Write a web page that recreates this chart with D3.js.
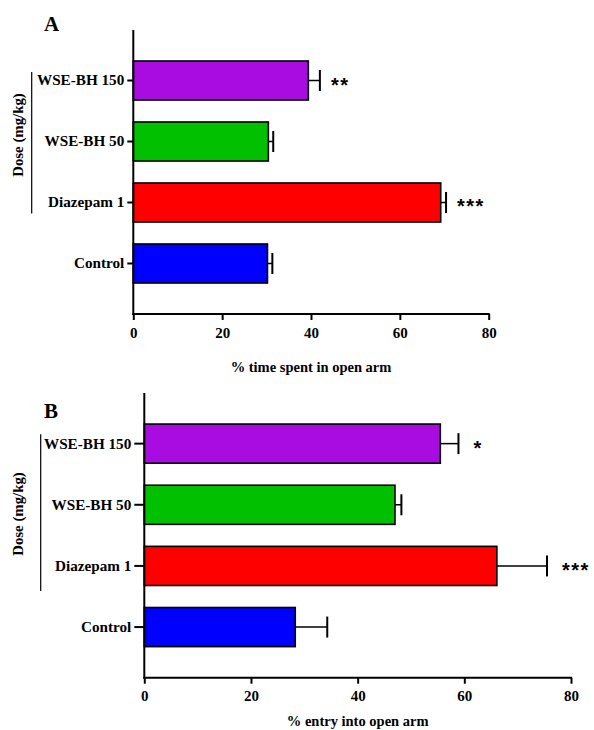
<!DOCTYPE html>
<html>
<head>
<meta charset="utf-8">
<script src="https://cdn.jsdelivr.net/npm/d3@7"></script>
<style>
  html, body { margin: 0; padding: 0; background: #fff; }
  svg { display: block; }
  text { font-family: "Liberation Serif", "Times New Roman", serif; font-weight: bold; fill: #000; }
</style>
</head>
<body>
<svg id="chart" width="594" height="730"></svg>
<script>
// Treatment groups, listed bottom to top
const groups = ["Control", "Diazepam 1", "WSE-BH 50", "WSE-BH 150"];
const groupColors = ["#0000FF", "#FF0000", "#00C000", "#A90CE1"];

// Panel A: % time spent in open arm (mean, SEM)
const timeMean = [30.2, 69.2, 30.4, 39.4];
const timeSem  = [1.1, 1.2, 1.1, 2.6];
const timeSig  = ["", "***", "", "**"];

// Panel B: % entry into open arm (mean, SEM)
const entryMean = [28.3, 66.1, 47.0, 55.5];
const entrySem  = [6.0, 9.4, 1.2, 3.4];
const entrySig  = ["", "***", "", "*"];

const xTicks = [0, 20, 40, 60, 80];
const xMax = 80;

const svg = d3.select("#chart");

function drawPanel(cfg) {
  const g = svg.append("g");
  const rows = groups.map((name, i) => ({
    name, color: groupColors[i], mean: cfg.mean[i], sem: cfg.sem[i], sig: cfg.sig[i]
  }));

  const x = d3.scaleLinear().domain([0, xMax]).range([cfg.left, cfg.right]);
  const y = d3.scaleBand().domain(groups).range([cfg.bottom, cfg.top])
    .paddingInner(0.36).paddingOuter(0.508);
  const cy = d => y(d) + y.bandwidth() / 2;

  // bars
  g.selectAll("rect.bar").data(rows).join("rect")
    .attr("class", "bar")
    .attr("x", x(0))
    .attr("y", d => y(d.name))
    .attr("width", d => x(d.mean) - x(0))
    .attr("height", y.bandwidth())
    .attr("fill", d => d.color)
    .attr("stroke", "#000")
    .attr("stroke-width", 1.6);

  // one-sided error bars (mean + SEM)
  g.selectAll("line.err").data(rows).join("line")
    .attr("class", "err")
    .attr("x1", d => x(d.mean)).attr("x2", d => x(d.mean + d.sem))
    .attr("y1", d => cy(d.name)).attr("y2", d => cy(d.name))
    .attr("stroke", "#000").attr("stroke-width", 1.5);
  g.selectAll("line.cap").data(rows).join("line")
    .attr("class", "cap")
    .attr("x1", d => x(d.mean + d.sem)).attr("x2", d => x(d.mean + d.sem))
    .attr("y1", d => cy(d.name) - 10.5).attr("y2", d => cy(d.name) + 10.5)
    .attr("stroke", "#000").attr("stroke-width", 2);

  // significance asterisks
  g.selectAll("text.sig").data(rows.filter(d => d.sig)).join("text")
    .attr("class", "sig")
    .attr("x", d => x(d.mean + d.sem) + cfg.sigGap)
    .attr("y", d => cy(d.name) + 11)
    .style("font-family", "'Liberation Sans', Arial, sans-serif")
    .style("font-size", "20px")
    .style("letter-spacing", "1.5px")
    .text(d => d.sig);

  // x axis
  const xAxis = g.append("g")
    .attr("transform", `translate(0,${cfg.bottom})`)
    .call(d3.axisBottom(x).tickValues(xTicks).tickSize(6).tickPadding(7).tickSizeOuter(0));
  xAxis.select(".domain").attr("stroke", "#000").attr("stroke-width", 2)
    .attr("d", `M${cfg.left - 1},0H${cfg.right + 1}`);
  xAxis.selectAll(".tick line").attr("stroke", "#000").attr("stroke-width", 2);
  xAxis.selectAll(".tick text")
    .style("font-family", "'Liberation Serif', 'Times New Roman', serif")
    .style("font-weight", "bold").style("font-size", "15px").attr("fill", "#000");

  // y axis
  const yAxis = g.append("g")
    .attr("transform", `translate(${cfg.left},0)`)
    .call(d3.axisLeft(y).tickSize(cfg.yTick).tickPadding(3).tickSizeOuter(0));
  yAxis.select(".domain").attr("stroke", "#000").attr("stroke-width", 2)
    .attr("d", `M0,${cfg.top}V${cfg.bottom + 1}`);
  yAxis.selectAll(".tick line").attr("stroke", "#000").attr("stroke-width", 2);
  yAxis.selectAll(".tick text")
    .style("font-family", "'Liberation Serif', 'Times New Roman', serif")
    .style("font-weight", "bold").style("font-size", "15.2px").attr("fill", "#000");

  // x axis title
  g.append("text")
    .attr("x", (cfg.left + cfg.right) / 2)
    .attr("y", cfg.titleY)
    .attr("text-anchor", "middle")
    .style("font-size", "14.5px")
    .text(cfg.title);

  // y axis title with bracket spanning the dose groups
  g.append("line")
    .attr("x1", cfg.bracketX).attr("x2", cfg.bracketX)
    .attr("y1", cy("WSE-BH 150") - cfg.bracketTop)
    .attr("y2", cy("Diazepam 1") + cfg.bracketBottom)
    .attr("stroke", "#000").attr("stroke-width", 1.2);
  g.append("text")
    .attr("transform", `translate(23,${cfg.doseY}) rotate(-90)`)
    .attr("text-anchor", "middle")
    .style("font-size", "14.8px")
    .text("Dose (mg/kg)");

  // panel letter
  g.append("text")
    .attr("x", 44).attr("y", cfg.letterY)
    .style("font-size", "21px")
    .text(cfg.letter);
}

drawPanel({
  letter: "A", letterY: 31,
  mean: timeMean, sem: timeSem, sig: timeSig,
  left: 133.3, right: 488.7, top: 30, bottom: 314,
  yTick: 6, sigGap: 11,
  title: "% time spent in open arm", titleY: 372,
  bracketX: 31.7, bracketTop: 8.5, bracketBottom: 11, doseY: 135
});

drawPanel({
  letter: "B", letterY: 418,
  mean: entryMean, sem: entrySem, sig: entrySig,
  left: 144.3, right: 571, top: 393, bottom: 677.7,
  yTick: 10, sigGap: 15,
  title: "% entry into open arm", titleY: 726,
  bracketX: 40.7, bracketTop: 9.5, bracketBottom: 25, doseY: 514
});
</script>
</body>
</html>
